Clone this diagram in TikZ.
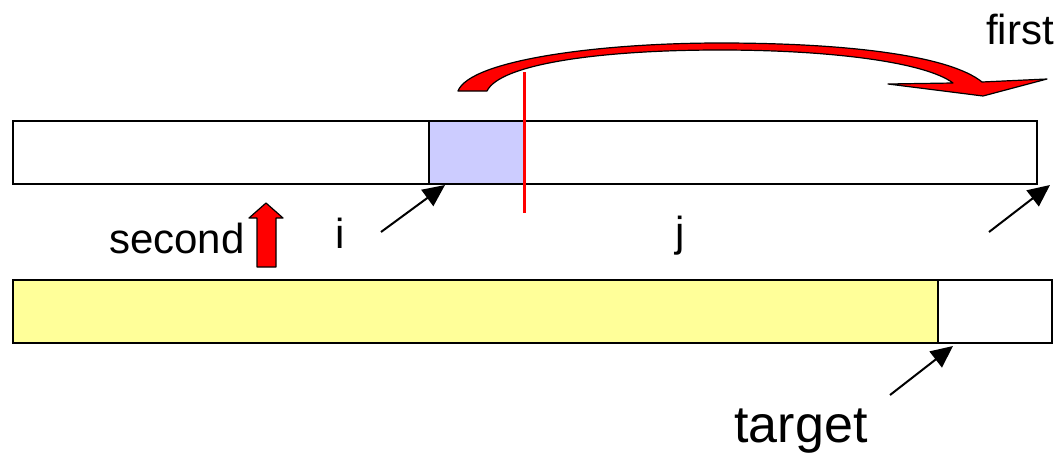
\documentclass[tikz,border=0pt]{standalone}
\usepackage{fontspec}
\setmainfont{Liberation Sans}
\usetikzlibrary{arrows.meta}
\definecolor{lblue}{HTML}{CCCCFF}
\definecolor{lyellow}{HTML}{FFFF99}
\begin{document}
\begin{tikzpicture}[x=1pt,y=-1pt,
  cell/.style={draw=black,line width=2pt,inner sep=0pt,outer sep=0pt,minimum height=63pt},
  lbl/.style={font=\fontsize{42}{50}\selectfont,inner sep=0pt,anchor=base},
  pointer/.style={draw=black,line width=2pt,-{Triangle[length=22pt,width=20pt]}},
  redblock/.style={fill=red,draw=black,line width=1.2pt,line join=round}]
\useasboundingbox (0,0) rectangle (1059,453);
% bars
\node[cell,fill=white,minimum width=1024pt] (topbar) at (525,152.5) {};
\node[cell,fill=lblue,minimum width=95pt] (blue) at (476.5,152.5) {};
\node[cell,fill=lyellow,minimum width=925pt] (yellow) at (475.5,311.5) {};
\node[cell,fill=white,minimum width=114pt] (tcell) at (995,311.5) {};
% red split line
\coordinate (rtop) at (524,72);
\coordinate (rbot) at (524,213);
\draw[red,line width=3pt] (rtop) -- (rbot);
% curved block arrow
\path[redblock] (458,91) .. controls (470,60) and (600,43) .. (720,43)
  .. controls (850,43) and (950,56) .. (982,82)
  -- (1047,79) -- (983,96) -- (888,84) -- (953,83)
  .. controls (925,62) and (830,50) .. (720,50)
  .. controls (600,50) and (500,64) .. (487,91) -- cycle;
% up block arrow
\path[redblock] (257,267) -- (257,218) -- (249,218) -- (266,203) -- (283,218) -- (276,218) -- (276,267) -- cycle;
% labels
\node[lbl] (first) at (1020,44) {first};
\node[lbl] (second) at (177,253) {second};
\node[lbl] (ilbl) at (340,248) {i};
\node[lbl] (jlbl) at (680,246) {j};
\node[lbl,font=\fontsize{52}{60}\selectfont] (target) at (801,442) {target};
% pointers
\coordinate (itail) at (381,232);
\coordinate (jtail) at (989,232);
\coordinate (ttail) at (890,395);
\draw[pointer] (itail) -- ([xshift=16pt,yshift=-1pt]blue.south west);
\draw[pointer] (jtail) -- ([xshift=13pt,yshift=-1pt]topbar.south east);
\draw[pointer] (ttail) -- ([xshift=15pt,yshift=-3pt]tcell.north west |- yellow.south);
\end{tikzpicture}
\end{document}
